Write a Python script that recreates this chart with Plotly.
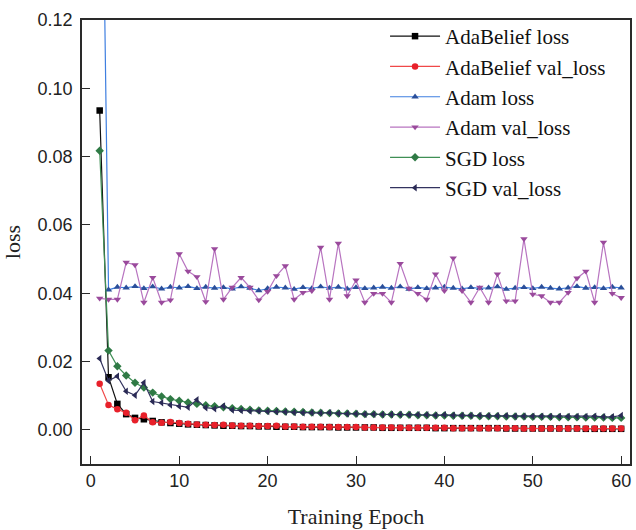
import plotly.graph_objects as go

epochs = list(range(1, 61))

adabelief_loss = [
    0.0935, 0.0154, 0.0076, 0.0046, 0.0035, 0.0031, 0.0026, 0.0022, 0.0020, 0.0018,
    0.0016, 0.0015, 0.0014, 0.0013, 0.0012, 0.0012, 0.0011, 0.0011, 0.0010, 0.0010,
    0.0009, 0.0009, 0.0009, 0.0008, 0.0008, 0.0008, 0.0008, 0.0007, 0.0007, 0.0007,
    0.0007, 0.0007, 0.0006, 0.0006, 0.0006, 0.0006, 0.0006, 0.0006, 0.0005, 0.0005,
    0.0005, 0.0005, 0.0005, 0.0005, 0.0005, 0.0005, 0.0004, 0.0004, 0.0004, 0.0004,
    0.0004, 0.0004, 0.0004, 0.0004, 0.0004, 0.0003, 0.0003, 0.0003, 0.0003, 0.0003]

adabelief_val = [
    0.0135, 0.0073, 0.0060, 0.0050, 0.0028, 0.0042, 0.0022, 0.0021, 0.0023, 0.0020,
    0.0018, 0.0016, 0.0015, 0.0014, 0.0015, 0.0013, 0.0012, 0.0012, 0.0011, 0.0011,
    0.0012, 0.0010, 0.0010, 0.0009, 0.0009, 0.0009, 0.0008, 0.0008, 0.0008, 0.0008,
    0.0007, 0.0007, 0.0007, 0.0007, 0.0006, 0.0006, 0.0006, 0.0006, 0.0006, 0.0006,
    0.0005, 0.0005, 0.0005, 0.0005, 0.0005, 0.0005, 0.0005, 0.0005, 0.0004, 0.0004,
    0.0004, 0.0004, 0.0004, 0.0004, 0.0004, 0.0004, 0.0004, 0.0004, 0.0004, 0.0004]

adam_loss = [
    0.2300, 0.0410, 0.0418, 0.0416, 0.0420, 0.0414, 0.0419, 0.0413, 0.0418, 0.0416,
    0.0420, 0.0414, 0.0418, 0.0415, 0.0417, 0.0413, 0.0419, 0.0415, 0.0408, 0.0414,
    0.0418, 0.0416, 0.0412, 0.0417, 0.0414, 0.0419, 0.0415, 0.0418, 0.0413, 0.0417,
    0.0414, 0.0416, 0.0418, 0.0415, 0.0419, 0.0412, 0.0417, 0.0414, 0.0416, 0.0418,
    0.0415, 0.0413, 0.0417, 0.0414, 0.0416, 0.0419, 0.0412, 0.0415, 0.0417, 0.0414,
    0.0418, 0.0415, 0.0413, 0.0416, 0.0420, 0.0415, 0.0417, 0.0414, 0.0418, 0.0416]

adam_val = [
    0.0385, 0.0382, 0.0382, 0.0490, 0.0483, 0.0373, 0.0446, 0.0373, 0.0380, 0.0515,
    0.0464, 0.0448, 0.0375, 0.0530, 0.0382, 0.0417, 0.0446, 0.0417, 0.0380, 0.0405,
    0.0451, 0.0480, 0.0382, 0.0402, 0.0407, 0.0534, 0.0382, 0.0546, 0.0392, 0.0438,
    0.0373, 0.0399, 0.0399, 0.0373, 0.0487, 0.0414, 0.0399, 0.0382, 0.0456, 0.0407,
    0.0503, 0.0407, 0.0373, 0.0417, 0.0373, 0.0456, 0.0377, 0.0377, 0.0559, 0.0397,
    0.0392, 0.0373, 0.0373, 0.0402, 0.0444, 0.0464, 0.0373, 0.0549, 0.0399, 0.0387]

sgd_loss = [
    0.0817, 0.0232, 0.0186, 0.0159, 0.0138, 0.0124, 0.0109, 0.0098, 0.0090, 0.0085,
    0.0080, 0.0076, 0.0072, 0.0069, 0.0066, 0.0063, 0.0061, 0.0059, 0.0057, 0.0056,
    0.0055, 0.0054, 0.0053, 0.0052, 0.0051, 0.0050, 0.0049, 0.0048, 0.0048, 0.0047,
    0.0046, 0.0046, 0.0045, 0.0045, 0.0044, 0.0044, 0.0043, 0.0043, 0.0042, 0.0042,
    0.0041, 0.0041, 0.0041, 0.0040, 0.0040, 0.0040, 0.0039, 0.0039, 0.0039, 0.0038,
    0.0038, 0.0038, 0.0037, 0.0037, 0.0037, 0.0036, 0.0036, 0.0036, 0.0035, 0.0035]

sgd_val = [
    0.0209, 0.0144, 0.0157, 0.0113, 0.0101, 0.0138, 0.0083, 0.0079, 0.0073, 0.0069,
    0.0066, 0.0088, 0.0065, 0.0062, 0.0070, 0.0058, 0.0057, 0.0055, 0.0055, 0.0054,
    0.0053, 0.0052, 0.0051, 0.0050, 0.0050, 0.0049, 0.0050, 0.0048, 0.0047, 0.0047,
    0.0046, 0.0046, 0.0045, 0.0045, 0.0045, 0.0044, 0.0044, 0.0044, 0.0043, 0.0044,
    0.0043, 0.0042, 0.0042, 0.0042, 0.0041, 0.0041, 0.0041, 0.0040, 0.0040, 0.0040,
    0.0040, 0.0039, 0.0039, 0.0039, 0.0039, 0.0039, 0.0040, 0.0038, 0.0038, 0.0042]

series = [
    ("AdaBelief loss", adabelief_loss, "#111111", "#000000", "square"),
    ("AdaBelief val_loss", adabelief_val, "#f04848", "#e8202a", "circle"),
    ("Adam loss", adam_loss, "#3f7fe0", "#2a4f9a", "triangle-up"),
    ("Adam val_loss", adam_val, "#b874c0", "#9a4a9c", "triangle-down"),
    ("SGD loss", sgd_loss, "#3f8f55", "#2f7a45", "diamond"),
    ("SGD val_loss", sgd_val, "#33335f", "#2a2a55", "triangle-left"),
]

fig = go.Figure()
for name, vals, lc, mc, sym in series:
    fig.add_trace(go.Scatter(
        x=epochs, y=vals, name=name, mode="lines+markers",
        line=dict(color=lc, width=1.2),
        marker=dict(symbol=sym, size=6.5, color=mc, line=dict(width=0)),
        cliponaxis=True,
    ))

axis_common = dict(
    showline=True, linecolor="#2a2a2a", linewidth=1.6, mirror=True,
    ticks="inside", ticklen=8, tickwidth=1.2, tickcolor="#2a2a2a",
    showgrid=False, zeroline=False,
    tickfont=dict(family="Liberation Sans, Arial, sans-serif", size=18, color="#222222"),
)

fig.update_layout(
    width=636, height=530,
    margin=dict(l=82, r=4, t=20, b=66),
    paper_bgcolor="white", plot_bgcolor="white",
    xaxis=dict(range=[-1, 61], tickvals=[0, 10, 20, 30, 40, 50, 60],
               title=dict(text="Training Epoch", standoff=18,
                          font=dict(family="Liberation Serif, Times New Roman, serif", size=22, color="#222222")),
               **axis_common),
    yaxis=dict(range=[-0.01, 0.12], tickvals=[0, 0.02, 0.04, 0.06, 0.08, 0.10, 0.12],
               ticktext=["0.00", "0.02", "0.04", "0.06", "0.08", "0.10", "0.12"],
               ticklabelstandoff=4,
               title=dict(text="loss", standoff=12,
                          font=dict(family="Liberation Serif, Times New Roman, serif", size=22, color="#222222")),
               **axis_common),
    legend=dict(x=0.553, y=1.009, xanchor="left", yanchor="top",
                bgcolor="rgba(0,0,0,0)", borderwidth=0,
                itemwidth=50, tracegroupgap=0,
                font=dict(family="Liberation Serif, Times New Roman, serif", size=21, color="#111111")),
    showlegend=True,
)

fig.write_html("out.html")
